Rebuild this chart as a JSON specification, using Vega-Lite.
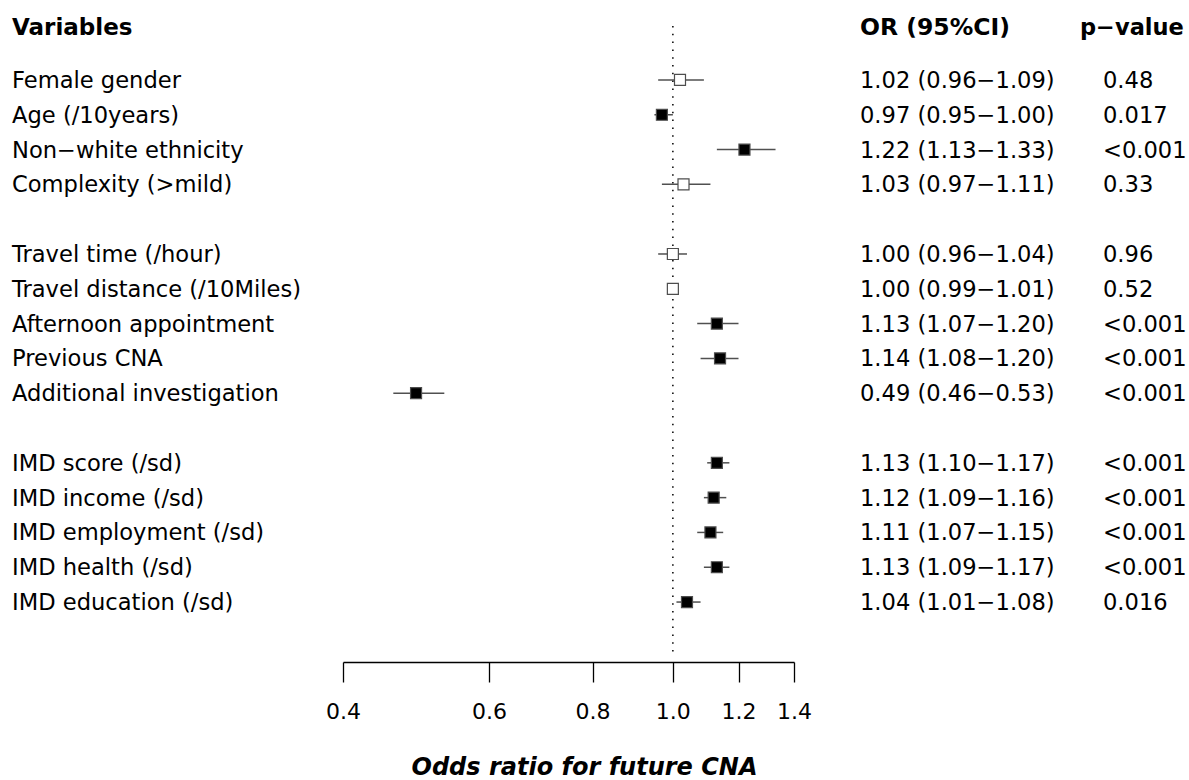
{
  "$schema": "https://vega.github.io/schema/vega-lite/v6.json",
  "autosize": {"type": "pad"},
  "padding": {"left": 12, "top": 15, "right": 0, "bottom": 2},
  "background": "white",
  "config": {"view": {"stroke": null}, "font": "DejaVu Sans", "text": {"font": "DejaVu Sans", "fontSize": 22.6, "color": "black"}},
  "spacing": 66,
  "bounds": "flush",
  "datasets": {
    "rows": [
      {"variable": "Female gender", "row": 1, "or": 1.02, "lo": 0.96, "hi": 1.09, "or_ci": "1.02 (0.96−1.09)", "p": "0.48", "sig": "no"},
      {"variable": "Age (/10years)", "row": 2, "or": 0.97, "lo": 0.95, "hi": 1.00, "or_ci": "0.97 (0.95−1.00)", "p": "0.017", "sig": "yes"},
      {"variable": "Non−white ethnicity", "row": 3, "or": 1.22, "lo": 1.13, "hi": 1.33, "or_ci": "1.22 (1.13−1.33)", "p": "<0.001", "sig": "yes"},
      {"variable": "Complexity (>mild)", "row": 4, "or": 1.03, "lo": 0.97, "hi": 1.11, "or_ci": "1.03 (0.97−1.11)", "p": "0.33", "sig": "no"},
      {"variable": "Travel time (/hour)", "row": 6, "or": 1.00, "lo": 0.96, "hi": 1.04, "or_ci": "1.00 (0.96−1.04)", "p": "0.96", "sig": "no"},
      {"variable": "Travel distance (/10Miles)", "row": 7, "or": 1.00, "lo": 0.99, "hi": 1.01, "or_ci": "1.00 (0.99−1.01)", "p": "0.52", "sig": "no"},
      {"variable": "Afternoon appointment", "row": 8, "or": 1.13, "lo": 1.07, "hi": 1.20, "or_ci": "1.13 (1.07−1.20)", "p": "<0.001", "sig": "yes"},
      {"variable": "Previous CNA", "row": 9, "or": 1.14, "lo": 1.08, "hi": 1.20, "or_ci": "1.14 (1.08−1.20)", "p": "<0.001", "sig": "yes"},
      {"variable": "Additional investigation", "row": 10, "or": 0.49, "lo": 0.46, "hi": 0.53, "or_ci": "0.49 (0.46−0.53)", "p": "<0.001", "sig": "yes"},
      {"variable": "IMD score (/sd)", "row": 12, "or": 1.13, "lo": 1.10, "hi": 1.17, "or_ci": "1.13 (1.10−1.17)", "p": "<0.001", "sig": "yes"},
      {"variable": "IMD income (/sd)", "row": 13, "or": 1.12, "lo": 1.09, "hi": 1.16, "or_ci": "1.12 (1.09−1.16)", "p": "<0.001", "sig": "yes"},
      {"variable": "IMD employment (/sd)", "row": 14, "or": 1.11, "lo": 1.07, "hi": 1.15, "or_ci": "1.11 (1.07−1.15)", "p": "<0.001", "sig": "yes"},
      {"variable": "IMD health (/sd)", "row": 15, "or": 1.13, "lo": 1.09, "hi": 1.17, "or_ci": "1.13 (1.09−1.17)", "p": "<0.001", "sig": "yes"},
      {"variable": "IMD education (/sd)", "row": 16, "or": 1.04, "lo": 1.01, "hi": 1.08, "or_ci": "1.04 (1.01−1.08)", "p": "0.016", "sig": "yes"}
    ]
  },
  "hconcat": [
    {
      "width": 265,
      "height": 630,
      "layer": [
        {
          "data": {"name": "rows"},
          "mark": {"type": "text", "align": "left", "baseline": "middle", "dy": 1},
          "encoding": {
            "x": {"datum": 0, "type": "quantitative", "scale": {"domain": [0, 1], "nice": false}, "axis": null},
            "y": {"field": "row", "type": "quantitative", "scale": {"domain": [-0.55, 17.55], "nice": false, "zero": false, "reverse": true}, "axis": null},
            "text": {"field": "variable"}
          }
        },
        {
          "data": {"values": [{"header": "Variables", "row": -0.5}]},
          "mark": {"type": "text", "align": "left", "baseline": "middle", "fontWeight": "bold", "fontSize": 23},
          "encoding": {
            "x": {"datum": 0, "type": "quantitative"},
            "y": {"field": "row", "type": "quantitative"},
            "text": {"field": "header"}
          }
        }
      ]
    },
    {
      "width": 451,
      "height": 630,
      "layer": [
        {
          "data": {"values": [{"ref": 1}]},
          "mark": {"type": "rule", "strokeDash": [1.5, 6.3], "strokeWidth": 1.5, "color": "black"},
          "encoding": {
            "x": {
              "field": "ref", "type": "quantitative", "title": "Odds ratio for future CNA",
              "scale": {"type": "log", "domain": [0.4, 1.4], "nice": false, "zero": false},
              "axis": {
                "values": [0.4, 0.6, 0.8, 1.0, 1.2, 1.4], "format": ".1f", "orient": "bottom", "offset": 6,
                "grid": false, "domainColor": "black", "domainWidth": 1.3, "tickColor": "black", "tickWidth": 1.3, "tickSize": 20,
                "labelFont": "DejaVu Sans", "labelFontSize": 22, "labelColor": "black", "labelPadding": 19, "labelBaseline": "top",
                "labelFlush": false, "labelOverlap": false,
                "titleFont": "DejaVu Sans", "titleFontSize": 24, "titleFontWeight": "bold", "titleFontStyle": "italic", "titleColor": "black",
                "titlePadding": 33, "titleX": 241
              }
            }
          }
        },
        {
          "data": {"name": "rows"},
          "mark": {"type": "rule", "color": "#505050", "strokeWidth": 1.5},
          "encoding": {
            "x": {"field": "lo", "type": "quantitative", "title": "Odds ratio for future CNA"},
            "x2": {"field": "hi"},
            "y": {"field": "row", "type": "quantitative", "scale": {"domain": [-0.55, 17.55], "nice": false, "zero": false, "reverse": true}, "axis": null}
          }
        },
        {
          "data": {"name": "rows"},
          "mark": {"type": "point", "shape": "square", "filled": true, "size": 121, "stroke": "#4d4d4d", "strokeWidth": 1.2, "opacity": 1},
          "encoding": {
            "x": {"field": "or", "type": "quantitative", "title": "Odds ratio for future CNA"},
            "y": {"field": "row", "type": "quantitative"},
            "fill": {"field": "sig", "type": "nominal", "scale": {"domain": ["yes", "no"], "range": ["black", "white"]}, "legend": null}
          }
        }
      ]
    },
    {
      "width": 154,
      "height": 630,
      "layer": [
        {
          "data": {"name": "rows"},
          "mark": {"type": "text", "align": "left", "baseline": "middle", "dy": 1},
          "encoding": {
            "x": {"datum": 0, "type": "quantitative", "scale": {"domain": [0, 1], "nice": false}, "axis": null},
            "y": {"field": "row", "type": "quantitative", "scale": {"domain": [-0.55, 17.55], "nice": false, "zero": false, "reverse": true}, "axis": null},
            "text": {"field": "or_ci"}
          }
        },
        {
          "data": {"values": [{"header": "OR (95%CI)", "row": -0.5}]},
          "mark": {"type": "text", "align": "left", "baseline": "middle", "fontWeight": "bold", "fontSize": 23.5},
          "encoding": {
            "x": {"datum": 0, "type": "quantitative"},
            "y": {"field": "row", "type": "quantitative"},
            "text": {"field": "header"}
          }
        }
      ]
    },
    {
      "width": 109,
      "height": 630,
      "layer": [
        {
          "data": {"name": "rows"},
          "mark": {"type": "text", "align": "left", "baseline": "middle", "dy": 1, "dx": 23},
          "encoding": {
            "x": {"datum": 0, "type": "quantitative", "scale": {"domain": [0, 1], "nice": false}, "axis": null},
            "y": {"field": "row", "type": "quantitative", "scale": {"domain": [-0.55, 17.55], "nice": false, "zero": false, "reverse": true}, "axis": null},
            "text": {"field": "p"}
          }
        },
        {
          "data": {"values": [{"header": "p−value", "row": -0.5}]},
          "mark": {"type": "text", "align": "left", "baseline": "middle", "fontWeight": "bold", "fontSize": 22.5},
          "encoding": {
            "x": {"datum": 0, "type": "quantitative"},
            "y": {"field": "row", "type": "quantitative"},
            "text": {"field": "header"}
          }
        }
      ]
    }
  ]
}
